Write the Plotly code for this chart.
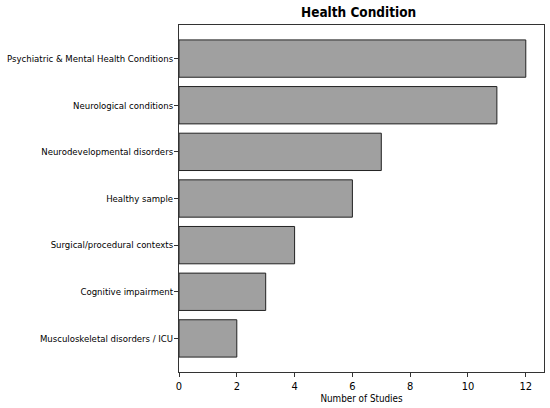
import plotly.graph_objects as go

# categories top to bottom
conditions = [
    "Psychiatric & Mental Health Conditions",
    "Neurological conditions",
    "Neurodevelopmental disorders",
    "Healthy sample",
    "Surgical/procedural contexts",
    "Cognitive impairment",
    "Musculoskeletal disorders / ICU",
]
n_studies = [12, 11, 7, 6, 4, 3, 2]
x_ticks = [0, 2, 4, 6, 8, 10, 12]

FONT = 'DejaVu Sans Condensed, DejaVu Sans'

fig = go.Figure()
fig.add_trace(go.Bar(
    x=n_studies, y=conditions, orientation='h',
    marker=dict(color='#a0a0a0', line=dict(color='#222222', width=1)),
    width=0.8,
))

fig.update_layout(
    width=550, height=408,
    margin=dict(l=179, r=6, t=25, b=36),
    plot_bgcolor='white', paper_bgcolor='white',
    font=dict(family=FONT, size=11, color='black'),
    title=dict(text='<b>Health Condition</b>', x=0.652, xanchor='center',
               y=0.97, yanchor='middle', font=dict(size=13.5)),
    showlegend=False,
)
fig.update_xaxes(
    range=[0, 12.63], tickvals=x_ticks, ticks='outside', ticklen=4,
    tickcolor='#333333', showline=True, linecolor='#333333', linewidth=1,
    mirror=True, showgrid=False, zeroline=False, automargin=False,
    title=dict(text='Number of Studies', font=dict(size=9.8), standoff=2),
    tickfont=dict(size=11),
)
fig.update_yaxes(
    range=[6.72, -0.72], ticks='outside', ticklen=4, tickcolor='#333333',
    showline=True, linecolor='#333333', linewidth=1, mirror=True,
    showgrid=False, automargin=False, tickfont=dict(size=9.5),
    ticklabelstandoff=-1,
)

# drop the browser's default body margin so the figure sits at 0,0
fig.write_html("out.html", config={'displayModeBar': False},
               post_script="document.body.style.margin='0';")
